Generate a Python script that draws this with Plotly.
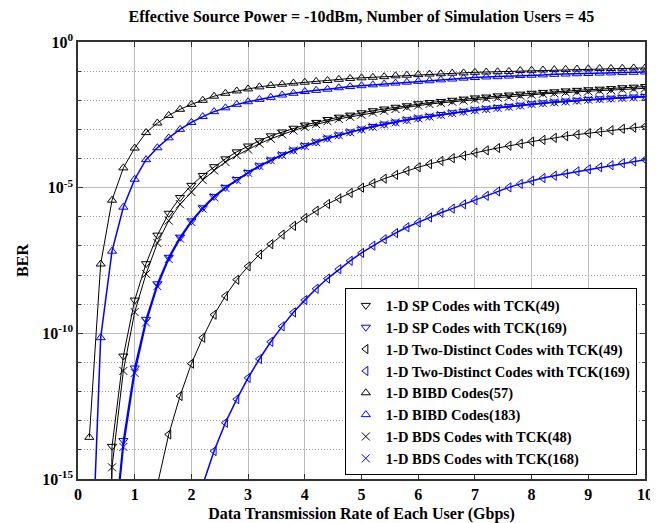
import plotly.graph_objects as go

# Data transmission rate (Gbps)
rate = [0.2, 0.4, 0.6, 0.8, 1.0, 1.2, 1.4, 1.6, 1.8, 2.0,
        2.2, 2.4, 2.6, 2.8, 3.0, 3.2, 3.4, 3.6, 3.8, 4.0,
        4.2, 4.4, 4.6, 4.8, 5.0, 5.2, 5.4, 5.6, 5.8, 6.0,
        6.2, 6.4, 6.6, 6.8, 7.0, 7.2, 7.4, 7.6, 7.8, 8.0,
        8.2, 8.4, 8.6, 8.8, 9.0, 9.2, 9.4, 9.6, 9.8, 10.0]

# log10(BER)
sp49 = [-100, -45, -13.88, -10.78, -8.86, -7.61, -6.63, -5.88, -5.34, -4.92,
        -4.58, -4.28, -4.01, -3.77, -3.57, -3.39, -3.22, -3.09, -2.96, -2.85,
        -2.76, -2.66, -2.58, -2.51, -2.43, -2.36, -2.30, -2.24, -2.19, -2.12,
        -2.08, -2.04, -2.00, -1.96, -1.92, -1.89, -1.85, -1.82, -1.79, -1.76,
        -1.73, -1.71, -1.68, -1.66, -1.64, -1.62, -1.60, -1.57, -1.55, -1.53]
sp169 = [-60, -32, -17.5, -13.68, -11.19, -9.52, -8.30, -7.39, -6.70, -6.14,
         -5.69, -5.30, -4.99, -4.72, -4.48, -4.25, -4.05, -3.87, -3.71, -3.56,
         -3.43, -3.30, -3.19, -3.09, -2.99, -2.90, -2.82, -2.75, -2.67, -2.61,
         -2.55, -2.49, -2.43, -2.38, -2.33, -2.29, -2.25, -2.21, -2.17, -2.12,
         -2.09, -2.06, -2.03, -2.00, -1.97, -1.95, -1.93, -1.91, -1.89, -1.87]
td49 = [-150, -90, -60, -40, -28, -19.0, -15.2, -13.47, -12.15, -11.04,
        -10.15, -9.36, -8.72, -8.16, -7.70, -7.29, -6.94, -6.61, -6.31, -6.04,
        -5.79, -5.56, -5.37, -5.18, -5.00, -4.85, -4.69, -4.56, -4.42, -4.30,
        -4.19, -4.08, -3.99, -3.90, -3.80, -3.72, -3.64, -3.56, -3.49, -3.42,
        -3.36, -3.29, -3.23, -3.18, -3.13, -3.08, -3.03, -2.98, -2.94, -2.90]
td169 = [-200, -130, -90, -65, -50, -40, -32, -26, -21.5, -18.0,
         -15.2, -14.04, -13.07, -12.26, -11.53, -10.88, -10.29, -9.76, -9.28, -8.86,
         -8.47, -8.12, -7.80, -7.51, -7.24, -6.99, -6.77, -6.56, -6.36, -6.19,
         -6.02, -5.86, -5.72, -5.57, -5.43, -5.28, -5.13, -4.99, -4.87, -4.76,
         -4.67, -4.59, -4.52, -4.44, -4.37, -4.30, -4.23, -4.16, -4.10, -4.04]
bibd57 = [-13.57, -7.62, -5.43, -4.32, -3.64, -3.11, -2.78, -2.52, -2.31, -2.14,
          -2.00, -1.86, -1.76, -1.68, -1.61, -1.54, -1.49, -1.45, -1.41, -1.38,
          -1.35, -1.32, -1.28, -1.25, -1.23, -1.21, -1.19, -1.16, -1.14, -1.12,
          -1.10, -1.09, -1.07, -1.06, -1.04, -1.03, -1.02, -1.01, -0.98, -0.97,
          -0.96, -0.95, -0.94, -0.93, -0.92, -0.91, -0.91, -0.90, -0.89, -0.89]
bibd183 = [-20.2, -10.15, -7.18, -5.67, -4.71, -4.04, -3.63, -3.29, -3.00, -2.76,
           -2.56, -2.39, -2.26, -2.14, -2.05, -1.97, -1.90, -1.82, -1.76, -1.70,
           -1.66, -1.62, -1.57, -1.53, -1.50, -1.47, -1.44, -1.41, -1.38, -1.35,
           -1.33, -1.30, -1.27, -1.24, -1.22, -1.20, -1.19, -1.17, -1.15, -1.14,
           -1.13, -1.11, -1.10, -1.09, -1.08, -1.07, -1.06, -1.05, -1.04, -1.03]
bds48 = [-100, -50, -14.6, -11.29, -9.27, -7.96, -6.90, -6.13, -5.57, -5.15,
         -4.74, -4.41, -4.12, -3.89, -3.69, -3.49, -3.32, -3.17, -3.04, -2.92,
         -2.82, -2.72, -2.64, -2.57, -2.50, -2.42, -2.36, -2.30, -2.24, -2.18,
         -2.13, -2.09, -2.05, -2.01, -1.97, -1.94, -1.91, -1.88, -1.84, -1.81,
         -1.78, -1.76, -1.73, -1.71, -1.69, -1.67, -1.65, -1.63, -1.61, -1.59]
bds168 = [-65, -34, -17.8, -13.9, -11.36, -9.63, -8.38, -7.45, -6.75, -6.18,
          -5.72, -5.33, -5.01, -4.74, -4.49, -4.26, -4.06, -3.88, -3.72, -3.57,
          -3.44, -3.31, -3.20, -3.10, -3.00, -2.91, -2.83, -2.76, -2.68, -2.62,
          -2.56, -2.50, -2.44, -2.39, -2.34, -2.30, -2.26, -2.22, -2.18, -2.13,
          -2.10, -2.07, -2.04, -2.01, -1.98, -1.96, -1.94, -1.92, -1.90, -1.88]

names = ["1-D SP Codes with TCK(49)", "1-D SP Codes with TCK(169)",
         "1-D Two-Distinct Codes with TCK(49)", "1-D Two-Distinct Codes with TCK(169)",
         "1-D BIBD Codes(57)", "1-D BIBD Codes(183)",
         "1-D BDS Codes with TCK(48)", "1-D BDS Codes with TCK(168)"]
series = [sp49, sp169, td49, td169, bibd57, bibd183, bds48, bds168]
colors = ["black", "blue"] * 4
symbols = ["triangle-down-open", "triangle-down-open",
           "triangle-left-open", "triangle-left-open",
           "triangle-up-open", "triangle-up-open",
           "x-thin-open", "x-thin-open"]

FONT = "Liberation Serif"
fig = go.Figure()
for name, vals, col, sym in zip(names, series, colors, symbols):
    ber = [10 ** v for v in vals]
    lw = 1.0 if col == "black" else 1.5
    fig.add_trace(go.Scatter(
        x=rate, y=ber, mode="lines+markers", showlegend=False,
        line=dict(color=col, width=lw),
        marker=dict(symbol=sym, size=8, color=col, line=dict(color=col, width=1)),
        cliponaxis=True))
for name, col, sym in zip(names, colors, symbols):
    fig.add_trace(go.Scatter(
        x=[None], y=[None], mode="markers", name=name,
        marker=dict(symbol=sym, size=8, color=col, line=dict(color=col, width=1))))

minor_vals = [1e-1, 1e-2, 1e-3, 1e-4, 1e-6, 1e-7, 1e-8, 1e-9,
              1e-11, 1e-12, 1e-13, 1e-14]

fig.update_layout(
    width=658, height=523,
    margin=dict(l=70, r=21, t=34, b=52),
    paper_bgcolor="white", plot_bgcolor="white",
    font=dict(family=FONT, color="black", size=15),
    title=dict(text="<b>Effective Source Power = -10dBm, Number of Simulation Users = 45</b>",
               x=0.537, xanchor="center", y=0.983, yanchor="middle",
               font=dict(family=FONT, size=16, color="black")),
    legend=dict(x=0.4706, y=0.436, xanchor="left", yanchor="top",
                bgcolor="white", bordercolor="black", borderwidth=1,
                font=dict(family=FONT, size=14.5, color="black", weight="bold"),
                itemsizing="trace"),
)
fig.update_xaxes(
    range=[0, 10], dtick=1, tick0=0, automargin=False,
    showline=True, linecolor="#333", linewidth=1.5, mirror="ticks",
    ticks="inside", ticklen=5, tickcolor="#333",
    showgrid=True, gridcolor="#bbbbbb", gridwidth=1,
    tickfont=dict(family=FONT, size=16, weight="bold"),
    title=dict(text="<b>Data Transmission Rate of Each User (Gbps)</b>",
               font=dict(family=FONT, size=16), standoff=6),
    zeroline=False,
)
fig.update_yaxes(
    type="log", range=[-15, 0], automargin=False,
    tickmode="array", tickvals=[1, 1e-5, 1e-10, 1e-15],
    ticktext=["10<sup>0</sup>", "10<sup>-5</sup>", "10<sup>-10</sup>", "10<sup>-15</sup>"],
    showline=True, linecolor="#333", linewidth=1.5, mirror="ticks",
    ticks="inside", ticklen=5, tickcolor="#333",
    showgrid=True, gridcolor="#bbbbbb", gridwidth=1,
    minor=dict(tickmode="array", tickvals=minor_vals, ticks="inside", ticklen=3,
               tickcolor="#333", showgrid=True, gridcolor="#999999", griddash="1px,2px",
               gridwidth=1),
    tickfont=dict(family=FONT, size=16, weight="bold"),
    title=dict(text="<b>BER</b>", font=dict(family=FONT, size=16), standoff=10),
    zeroline=False,
)

fig.write_html("out.html")
